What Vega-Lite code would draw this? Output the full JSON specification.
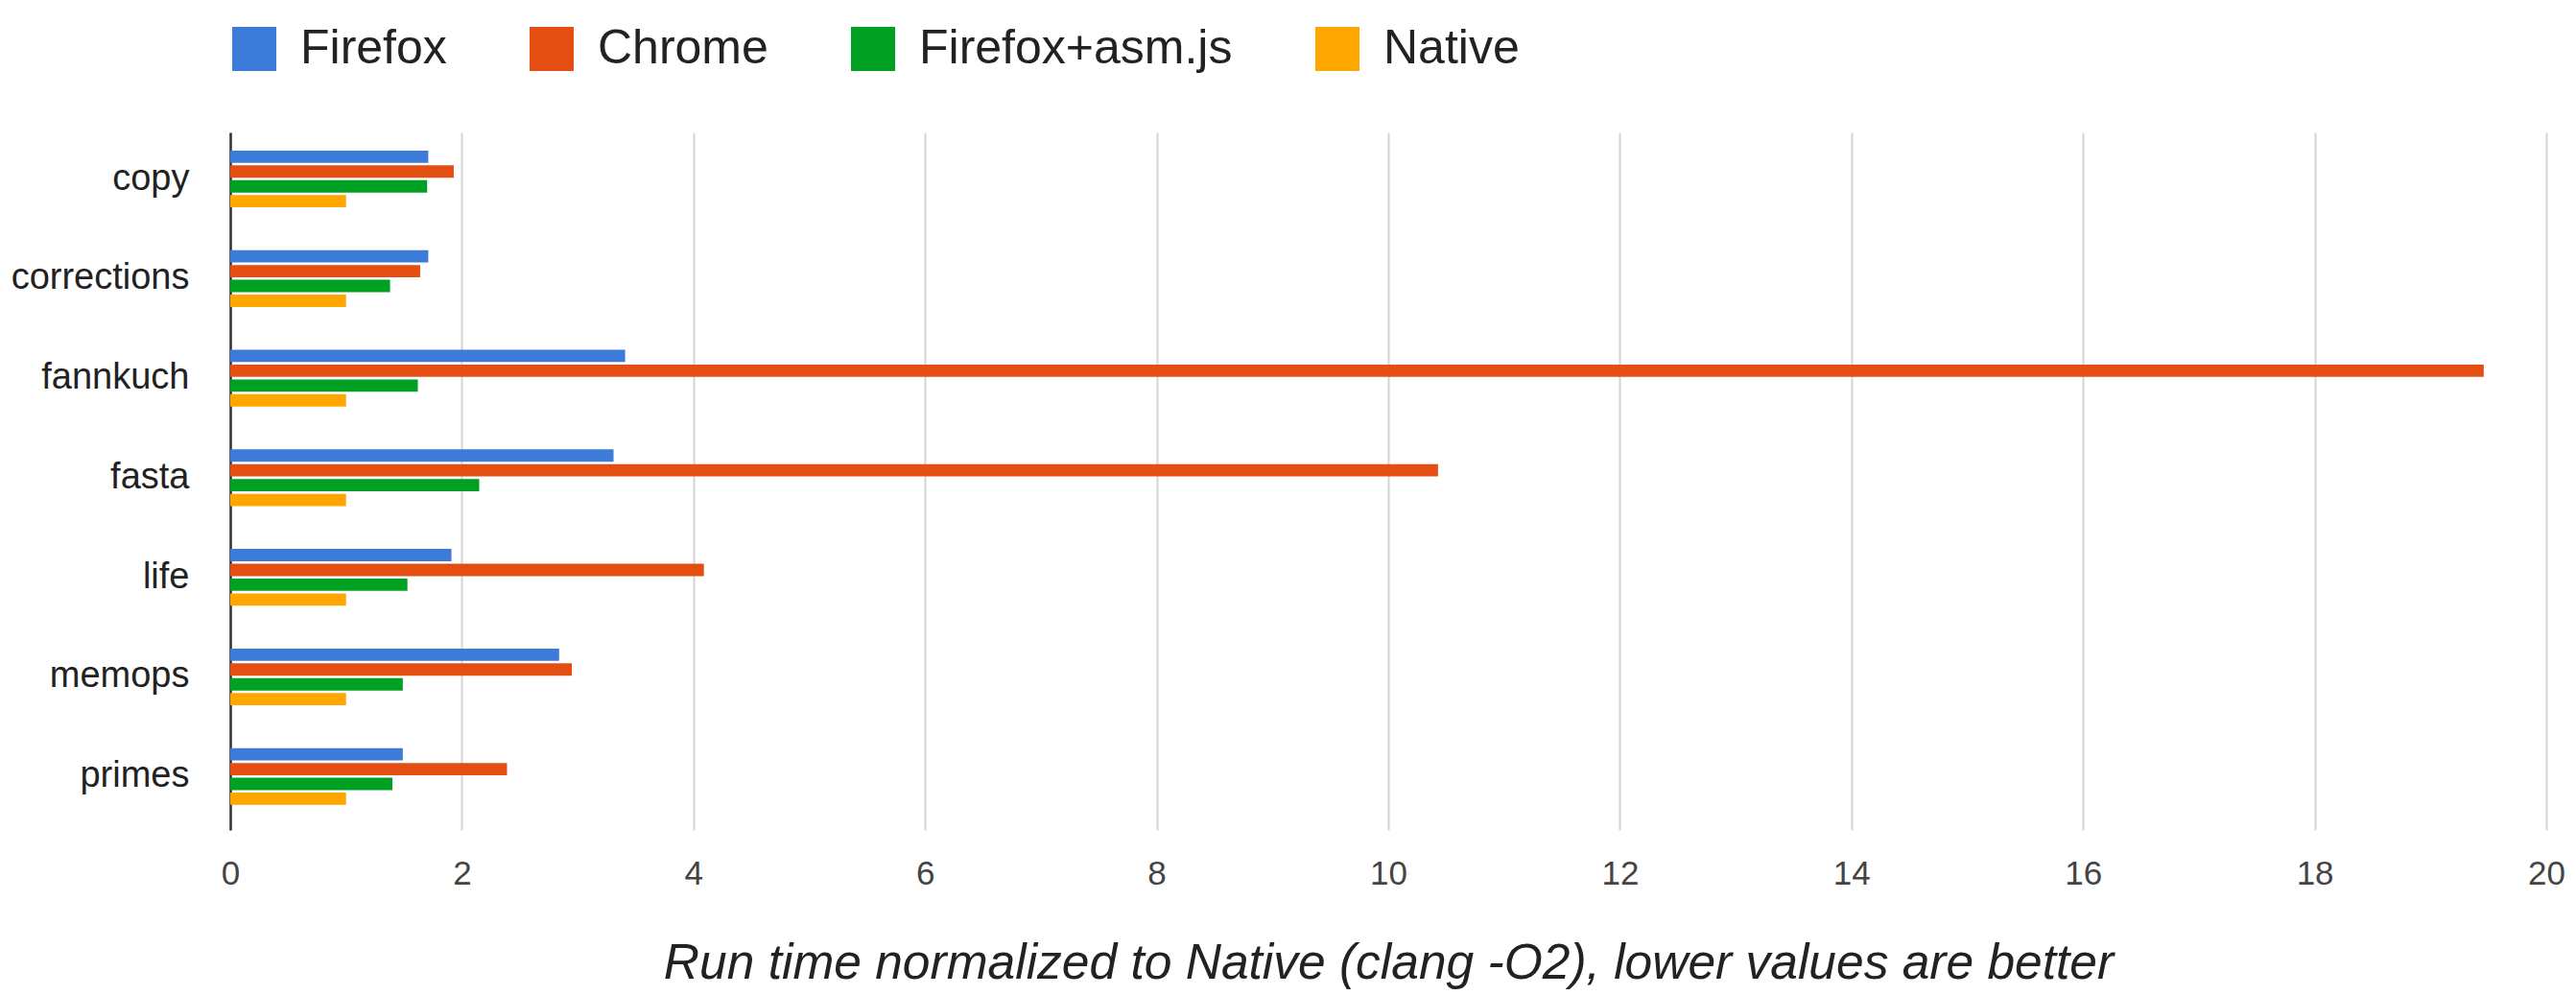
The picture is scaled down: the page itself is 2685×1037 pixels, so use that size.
{
  "$schema": "https://vega.github.io/schema/vega-lite/v6.json",
  "width": 2414,
  "height": 727,
  "autosize": {"type": "none"},
  "padding": {"left": 240, "top": 138, "right": 31, "bottom": 172},
  "background": "white",
  "config": {
    "view": {"stroke": null},
    "font": "Liberation Sans"
  },
  "data": {
    "values": [
      {"benchmark": "copy", "browser": "Firefox", "order": 1, "value": 1.71},
      {"benchmark": "copy", "browser": "Chrome", "order": 2, "value": 1.93},
      {"benchmark": "copy", "browser": "Firefox+asm.js", "order": 3, "value": 1.70},
      {"benchmark": "copy", "browser": "Native", "order": 4, "value": 1.0},
      {"benchmark": "corrections", "browser": "Firefox", "order": 1, "value": 1.71},
      {"benchmark": "corrections", "browser": "Chrome", "order": 2, "value": 1.64},
      {"benchmark": "corrections", "browser": "Firefox+asm.js", "order": 3, "value": 1.38},
      {"benchmark": "corrections", "browser": "Native", "order": 4, "value": 1.0},
      {"benchmark": "fannkuch", "browser": "Firefox", "order": 1, "value": 3.41},
      {"benchmark": "fannkuch", "browser": "Chrome", "order": 2, "value": 19.46},
      {"benchmark": "fannkuch", "browser": "Firefox+asm.js", "order": 3, "value": 1.62},
      {"benchmark": "fannkuch", "browser": "Native", "order": 4, "value": 1.0},
      {"benchmark": "fasta", "browser": "Firefox", "order": 1, "value": 3.31},
      {"benchmark": "fasta", "browser": "Chrome", "order": 2, "value": 10.43},
      {"benchmark": "fasta", "browser": "Firefox+asm.js", "order": 3, "value": 2.15},
      {"benchmark": "fasta", "browser": "Native", "order": 4, "value": 1.0},
      {"benchmark": "life", "browser": "Firefox", "order": 1, "value": 1.91},
      {"benchmark": "life", "browser": "Chrome", "order": 2, "value": 4.09},
      {"benchmark": "life", "browser": "Firefox+asm.js", "order": 3, "value": 1.53},
      {"benchmark": "life", "browser": "Native", "order": 4, "value": 1.0},
      {"benchmark": "memops", "browser": "Firefox", "order": 1, "value": 2.84},
      {"benchmark": "memops", "browser": "Chrome", "order": 2, "value": 2.95},
      {"benchmark": "memops", "browser": "Firefox+asm.js", "order": 3, "value": 1.49},
      {"benchmark": "memops", "browser": "Native", "order": 4, "value": 1.0},
      {"benchmark": "primes", "browser": "Firefox", "order": 1, "value": 1.49},
      {"benchmark": "primes", "browser": "Chrome", "order": 2, "value": 2.39},
      {"benchmark": "primes", "browser": "Firefox+asm.js", "order": 3, "value": 1.40},
      {"benchmark": "primes", "browser": "Native", "order": 4, "value": 1.0}
    ]
  },
  "mark": {"type": "bar"},
  "encoding": {
    "y": {
      "field": "benchmark",
      "type": "nominal",
      "sort": ["copy", "corrections", "fannkuch", "fasta", "life", "memops", "primes"],
      "scale": {"paddingInner": 0.43, "paddingOuter": 0.217, "align": 0.42},
      "axis": {
        "title": null,
        "ticks": false,
        "grid": false,
        "domain": true,
        "domainColor": "#333333",
        "domainWidth": 2.5,
        "labelFontSize": 38,
        "labelColor": "#222222",
        "labelPadding": 43,
        "labelLimit": 400
      }
    },
    "yOffset": {
      "field": "order",
      "type": "ordinal",
      "scale": {"paddingInner": 0.17, "paddingOuter": 0}
    },
    "x": {
      "field": "value",
      "type": "quantitative",
      "scale": {"domain": [0, 20], "nice": false},
      "axis": {
        "title": "Run time normalized to Native (clang -O2), lower values are better",
        "titleFontSize": 51.5,
        "titleFontStyle": "italic",
        "titleFontWeight": "normal",
        "titleColor": "#222222",
        "titlePadding": 50,
        "values": [0, 2, 4, 6, 8, 10, 12, 14, 16, 18, 20],
        "grid": true,
        "gridColor": "#d4d4d4",
        "gridWidth": 2,
        "domain": false,
        "ticks": false,
        "labelFontSize": 35,
        "labelColor": "#444444",
        "labelPadding": 28,
        "labelFlush": false
      }
    },
    "color": {
      "field": "browser",
      "type": "nominal",
      "sort": ["Firefox", "Chrome", "Firefox+asm.js", "Native"],
      "scale": {
        "domain": ["Firefox", "Chrome", "Firefox+asm.js", "Native"],
        "range": ["#3d7bd8", "#e44e13", "#00a023", "#ffa700"]
      },
      "legend": {
        "title": null,
        "orient": "none",
        "legendX": 0,
        "legendY": -112,
        "direction": "horizontal",
        "symbolType": "square",
        "symbolSize": 2116,
        "symbolStrokeWidth": 0,
        "labelFontSize": 50,
        "labelColor": "#222222",
        "labelOffset": 23,
        "labelLimit": 1000,
        "columnPadding": 84
      }
    }
  }
}
